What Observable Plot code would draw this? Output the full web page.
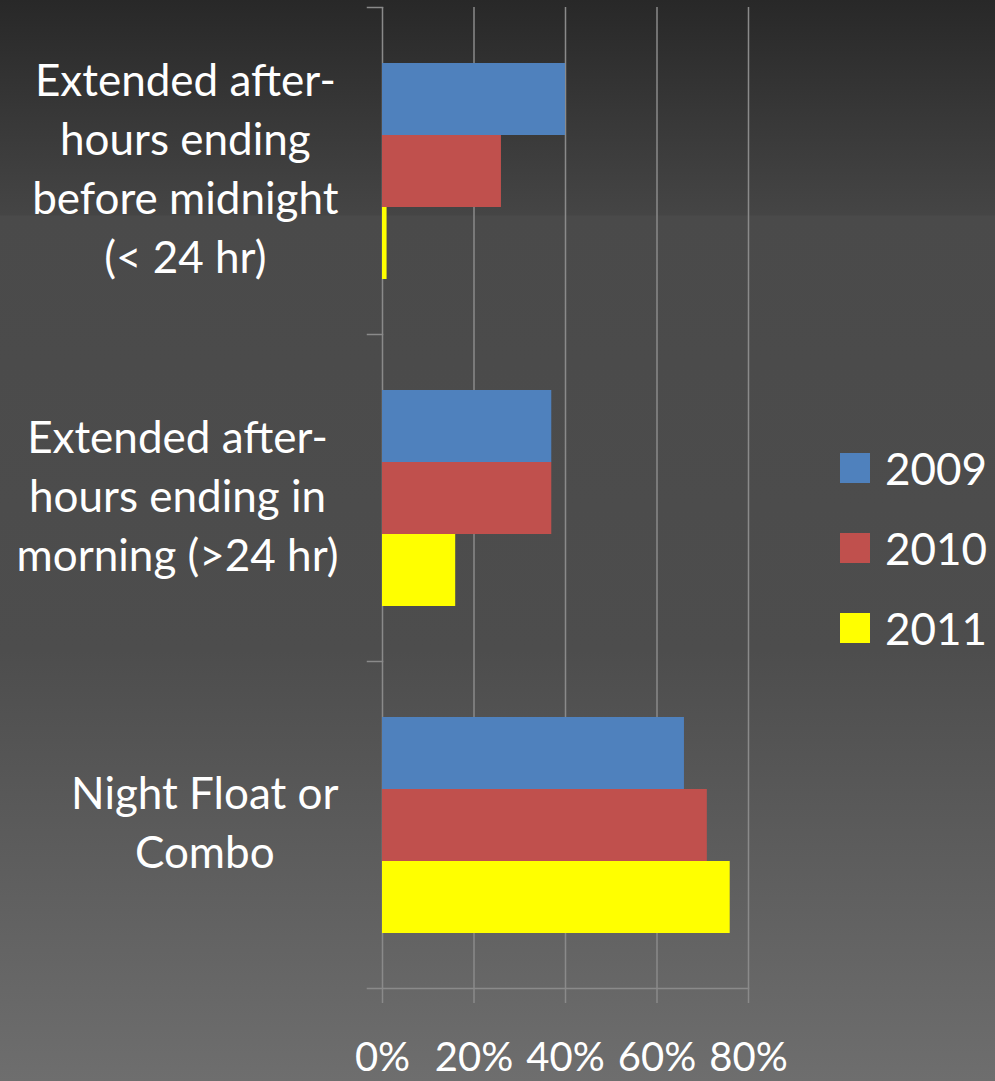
<!DOCTYPE html>
<html>
<head>
<meta charset="utf-8">
<script src="https://cdn.jsdelivr.net/npm/d3@7"></script>
<script src="https://cdn.jsdelivr.net/npm/@observablehq/plot@0.6"></script>
<style>
  html, body { margin: 0; padding: 0; }
  body {
    width: 995px; height: 1081px; overflow: hidden; position: relative;
    background: linear-gradient(to bottom, #282828 0px, #454545 215px, #4a4a4a 216px, #4d4d4d 650px, #6e6e6e 1081px);
    font-family: Lato, sans-serif;
  }
  #chart { position: absolute; left: 0; top: 0; }
  #legend { position: absolute; left: 840px; top: 453px; }
  .row { display: flex; align-items: center; height: 30px; margin-bottom: 50px; }
  .sw { width: 30px; height: 30px; margin-right: 15px; }
  .lab { color: white; font-size: 44px; line-height: 30px; font-family: Lato, sans-serif; }
</style>
</head>
<body>
<div id="chart"></div>
<div id="legend"></div>
<script>
// ---- data ----
const categories = [
  "Extended after-\nhours ending\nbefore midnight\n(< 24 hr)",
  "Extended after-\nhours ending in\nmorning (>24 hr)",
  "Night Float or\nCombo"
];
const years = ["2009", "2010", "2011"];
const values2009 = [40, 37, 66];
const values2010 = [26, 37, 71];
const values2011 = [1, 16, 76];
const xTicks = [0, 20, 40, 60, 80];
const colors = ["#4F81BD", "#C0504D", "#FFFF00"];

const seriesValues = [values2009, values2010, values2011];
const table = categories.flatMap((c, i) =>
  years.map((y, j) => ({category: c, year: y, value: seriesValues[j][i]})));

// ---- layout ----
const W = 995, H = 1081;
const mL = 382, mR = 247, mT = 7, mB = 93;
const innerW = W - mL - mR;
const tickFontSize = 40;
const labelFontSize = 44;
const labelFont = `${labelFontSize}px Lato`;
const gridColor = "#8a8a8a";

const ctx = document.createElement("canvas").getContext("2d");
ctx.font = labelFont;
const blockWidth = c => d3.max(c.split("\n"), l => ctx.measureText(l).width);

const labelMarks = categories.map(c =>
  Plot.text([c], {
    fy: d => d, text: d => d, frameAnchor: "left",
    textAnchor: "middle", lineAnchor: "middle", lineHeight: 59 / labelFontSize,
    dx: -(44 + blockWidth(c) / 2), dy: -5, fill: "white", fontSize: labelFontSize
  }));

const plot = Plot.plot({
  width: W, height: H,
  marginLeft: mL, marginRight: mR, marginTop: mT, marginBottom: mB,
  style: {background: "transparent", color: "white", fontFamily: "Lato, sans-serif", fontSize: `${tickFontSize}px`},
  x: {domain: [0, 80], axis: null},
  fy: {domain: categories, padding: 0, axis: null},
  y: {domain: years, paddingInner: 0, paddingOuter: 0.76, axis: null},
  color: {domain: years, range: colors},
  marks: [
    Plot.gridX(xTicks, {stroke: gridColor, strokeOpacity: 1, strokeWidth: 1.5}),
    Plot.frame({anchor: "top", insetLeft: -15, insetRight: innerW, stroke: gridColor, strokeWidth: 1.5}),
    Plot.frame({anchor: "bottom", facetAnchor: "bottom", insetLeft: -15, stroke: gridColor, strokeWidth: 1.5}),
    Plot.barX(table, {fy: "category", y: "year", x: "value", fill: "year"}),
    Plot.axisX(xTicks, {
      anchor: "bottom", tickSize: 15, tickPadding: 39,
      stroke: gridColor, strokeWidth: 1.5, fill: "white", fontSize: tickFontSize,
      tickFormat: d => d + "%", label: null
    }),
    ...labelMarks
  ]
});
document.getElementById("chart").appendChild(plot);

// legend
const legend = d3.select("#legend");
years.forEach((y, i) => {
  const row = legend.append("div").attr("class", "row");
  row.append("div").attr("class", "sw").style("background", colors[i]);
  row.append("div").attr("class", "lab").text(y);
});
</script>
</body>
</html>
